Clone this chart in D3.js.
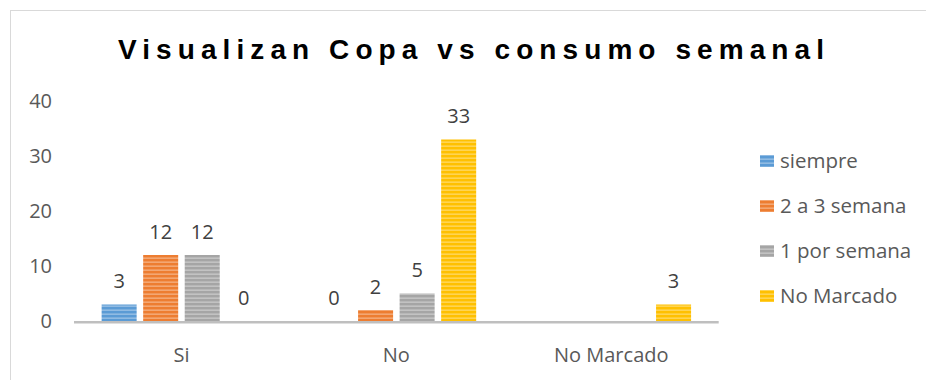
<!DOCTYPE html>
<html>
<head>
<meta charset="utf-8">
<script src="https://cdn.jsdelivr.net/npm/d3@7"></script>
<style>
  body { margin: 0; background: #fff; }
  svg { display: block; }
</style>
</head>
<body>
<div id="chart"></div>
<script>
// data
var categories = ['Si', 'No', 'No Marcado']
var seriesNames = ['siempre', '2 a 3 semana', '1 por semana', 'No Marcado']
var seriesColors = ['#5b9bd5', '#ed7d31', '#a5a5a5', '#ffc000']
var siempre = [3, 0, null]
var dosATres = [12, 2, null]
var unoPorSemana = [12, 5, null]
var noMarcado = [0, 33, 3]
var yTicks = [0, 10, 20, 30, 40]

var seriesValues = [siempre, dosATres, unoPorSemana, noMarcado]

var width = 926, height = 380
var plotLeft = 74, plotRight = 718.7, plotTop = 101, plotBottom = 321

var svg = d3.select('#chart')
    .append('svg')
    .attr('width', width)
    .attr('height', height)

// chart border (right and bottom run past the picture)
svg.append('rect')
    .attr('x', 10.5)
    .attr('y', 10.5)
    .attr('width', 940)
    .attr('height', 400)
    .attr('fill', 'white')
    .attr('stroke', '#d9d9d9')
    .attr('stroke-width', 1)

// striped fills
var defs = svg.append('defs')
seriesColors.forEach(function(c, i) {
    var p = defs.append('pattern')
        .attr('id', 'stripe' + i)
        .attr('patternUnits', 'userSpaceOnUse')
        .attr('width', 8)
        .attr('height', 4)
    p.append('rect').attr('width', 8).attr('height', 4).attr('fill', c)
    p.append('rect').attr('y', 1.5).attr('width', 8).attr('height', 1.3)
        .attr('fill', 'white').attr('opacity', 0.4)
})

var x0 = d3.scaleBand()
    .domain(categories)
    .range([plotLeft, plotRight])
    .padding(0)

var x1 = d3.scaleBand()
    .domain(seriesNames)
    .range([0, x0.bandwidth()])
    .paddingInner(0.157)
    .paddingOuter(0.665)

var y = d3.scaleLinear()
    .domain([0, 40])
    .range([plotBottom, plotTop])

var font = '"Open Sans", sans-serif'

// y tick labels
svg.append('g')
    .selectAll('text')
    .data(yTicks)
    .enter()
    .append('text')
    .attr('x', 52)
    .attr('y', function(d) { return y(d) })
    .attr('dy', '0.35em')
    .attr('text-anchor', 'end')
    .attr('font-family', font)
    .attr('font-size', 20)
    .attr('fill', '#595959')
    .text(function(d) { return d })

// bars
var rows = []
seriesValues.forEach(function(vals, s) {
    vals.forEach(function(v, c) {
        if (v != null) rows.push({ cat: categories[c], s: s, v: v })
    })
})

svg.append('g')
    .selectAll('rect')
    .data(rows)
    .enter()
    .append('rect')
    .attr('x', function(d) { return x0(d.cat) + x1(seriesNames[d.s]) })
    .attr('y', function(d) { return y(d.v) })
    .attr('width', x1.bandwidth())
    .attr('height', function(d) { return y(0) - y(d.v) })
    .attr('fill', function(d) { return 'url(#stripe' + d.s + ')' })

// value labels
svg.append('g')
    .selectAll('text')
    .data(rows)
    .enter()
    .append('text')
    .attr('x', function(d) { return x0(d.cat) + x1(seriesNames[d.s]) + x1.bandwidth() / 2 })
    .attr('y', function(d) { return y(d.v) - 16.5 })
    .attr('text-anchor', 'middle')
    .attr('font-family', font)
    .attr('font-size', 20)
    .attr('fill', '#404040')
    .text(function(d) { return d.v })

// baseline
svg.append('line')
    .attr('x1', plotLeft)
    .attr('x2', plotRight)
    .attr('y1', y(0) + 1.2)
    .attr('y2', y(0) + 1.2)
    .attr('stroke', '#bfbfbf')
    .attr('stroke-width', 2.5)

// category labels
svg.append('g')
    .selectAll('text')
    .data(categories)
    .enter()
    .append('text')
    .attr('x', function(d) { return x0(d) + x0.bandwidth() / 2 })
    .attr('y', 362)
    .attr('text-anchor', 'middle')
    .attr('font-family', font)
    .attr('font-size', 20)
    .attr('fill', '#595959')
    .text(function(d) { return d })

// title
svg.append('text')
    .attr('x', 471)
    .attr('y', 59)
    .attr('text-anchor', 'middle')
    .attr('font-family', '"Liberation Sans", Arial, sans-serif')
    .attr('font-weight', 'bold')
    .attr('font-size', 28)
    .attr('textLength', 706)
    .attr('lengthAdjust', 'spacing')
    .attr('fill', '#000')
    .text('Visualizan Copa vs consumo semanal')

// legend
var legend = svg.append('g')
    .selectAll('g')
    .data(seriesNames)
    .enter()
    .append('g')
    .attr('transform', function(d, i) { return 'translate(760,' + (161 + i * 45) + ')' })

legend.append('rect')
    .attr('x', 0)
    .attr('y', -6)
    .attr('width', 14)
    .attr('height', 12)
    .attr('fill', function(d, i) { return 'url(#stripe' + i + ')' })

legend.append('text')
    .attr('x', 20)
    .attr('y', 0)
    .attr('dy', '0.35em')
    .attr('font-family', font)
    .attr('font-size', 20.5)
    .attr('fill', '#595959')
    .text(function(d) { return d })
</script>
</body>
</html>
